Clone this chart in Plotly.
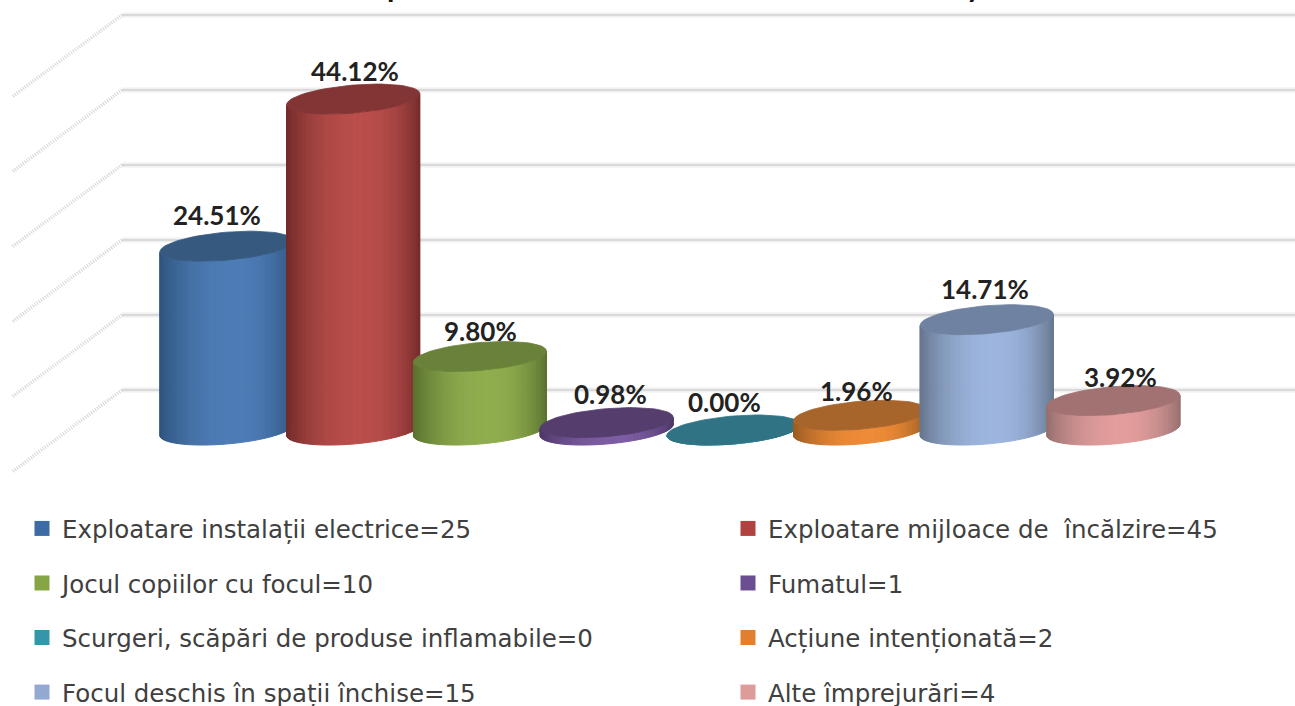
import math
import plotly.graph_objects as go

# ---- data ----
categories = ["Exploatare instalații electrice=25", "Exploatare mijloace de  încălzire=45",
              "Jocul copiilor cu focul=10", "Fumatul=1",
              "Scurgeri, scăpări de produse inflamabile=0", "Acțiune intenționată=2",
              "Focul deschis în spații închise=15", "Alte împrejurări=4"]
percent = [24.51, 44.12, 9.80, 0.98, 0.00, 1.96, 14.71, 3.92]
gridlines = [0, 10, 20, 30, 40, 50]
title_fragments = ["p", "y"]

# ---- style ----
side_center = ["#4d7cb6", "#b94e4b", "#90ad4e", "#7d5ca3", "#3b98b0", "#ee8b37", "#9db5de", "#e29d9c"]
side_edge = ["#2f557f", "#742c2a", "#5b7230", "#4d3768", "#25616f", "#9c5c22", "#66778f", "#977070"]
top_color = ["#35597f", "#823534", "#6a8139", "#553e6e", "#2f7385", "#a8652b", "#6f82a1", "#a27171"]
legend_color = ["#3d6ba4", "#b0423f", "#86a544", "#6b4e92", "#3596ab", "#e0802f", "#93a9d2", "#dd9b9a"]
label_nudge = [(-10, 3), (2, 0), (1, -2), (4, 1), (-9, 0), (-4, -4), (-2, 3), (7, -4)]

W, H = 1295, 706
X0, DX = 226.5, 126.7      # pixel of first category, pixels per category
Y0, DY = 390.0, 7.5        # pixel of value 0 on the back wall, pixels per percent
WALL_X, SIDE_X, SIDE_DROP = 122, 12, 82
FRONT = -40 / DY           # floor position of cylinders
A = 66.5 / DX              # half width
B = 14 / DY                # half height of ellipse
S = 5.5 / DY               # tilt
LABEL_GAP = 28             # pixels above top centre
N = 60


def xpx(p):
    return (p - X0) / DX


def ypx(p):
    return (Y0 - p) / DY


def mix(c1, c2, f):
    a = [int(c1[i:i + 2], 16) for i in (1, 3, 5)]
    b = [int(c2[i:i + 2], 16) for i in (1, 3, 5)]
    return "rgb(%d,%d,%d)" % tuple(round(p + (q - p) * f) for p, q in zip(a, b))


def shade(u):
    # u in [-1, 1], lightest slightly to the right of centre
    d = (u - 0.12) / (1.12 if u < 0.12 else 0.88)
    return max(0.0, 1 - abs(d) ** 2.2)


fig = go.Figure()

# walls
for g in gridlines:
    y = g
    fig.add_trace(go.Scatter(x=[xpx(WALL_X), xpx(W)], y=[y, y], mode="lines",
                             line=dict(color="#f0f0f0", width=5), showlegend=False, hoverinfo="skip"))
    fig.add_trace(go.Scatter(x=[xpx(WALL_X), xpx(W)], y=[y, y], mode="lines",
                             line=dict(color="#dadada", width=2), showlegend=False, hoverinfo="skip"))
    fig.add_trace(go.Scatter(x=[xpx(WALL_X), xpx(SIDE_X)], y=[y, y - SIDE_DROP / DY], mode="lines",
                             line=dict(color="#d4d4d4", width=3.5, dash="1px,1.5px"),
                             showlegend=False, hoverinfo="skip"))

# cylinders
for i, v in enumerate(percent):
    top = FRONT + v
    fig.add_trace(go.Bar(x=[i], y=[v], base=[FRONT], width=[2 * A],
                         marker=dict(color=side_center[i], line_width=0, opacity=0),
                         showlegend=False, hovertemplate=categories[i] + "<extra></extra>"))
    for k in range(N):
        t0 = math.pi * k / N
        t1 = math.pi * (k + 1) / N
        u = math.cos((t0 + t1) / 2)
        col = mix(side_edge[i], side_center[i], shade(u))
        xs, ys = [], []
        for t, lvl in ((t0, top), (t1, top), (t1, FRONT), (t0, FRONT)):
            xs.append(i + A * math.cos(t))
            ys.append(lvl - B * math.sin(t) + S * math.cos(t))
        xs.append(xs[0]); ys.append(ys[0])
        fig.add_trace(go.Scatter(x=xs, y=ys, mode="lines", fill="toself", fillcolor=col,
                                 line=dict(color=col, width=1), showlegend=False, hoverinfo="skip"))
    ts = [2 * math.pi * k / 72 for k in range(73)]
    fig.add_trace(go.Scatter(x=[i + A * math.cos(t) for t in ts],
                             y=[top - B * math.sin(t) + S * math.cos(t) for t in ts],
                             mode="lines", fill="toself", fillcolor=top_color[i],
                             line=dict(color=top_color[i], width=0.8), showlegend=False, hoverinfo="skip"))
    fig.add_annotation(x=i, y=top, text="%.2f%%" % v, showarrow=False,
                       xshift=label_nudge[i][0], yshift=LABEL_GAP + label_nudge[i][1],
                       font=dict(family="Lato", size=26, color="#222222", weight="bold"))

# legend entries
for i, name in enumerate(categories):
    fig.add_trace(go.Scatter(x=[None], y=[None], mode="markers", name=name,
                             marker=dict(symbol="square", size=15, color=legend_color[i]),
                             legend="legend" if i % 2 == 0 else "legend2",
                             legendgroup="g%d" % i))

for txt, px in zip(title_fragments, (385, 984)):
    fig.add_annotation(xref="paper", yref="paper", x=px / W, y=1, yanchor="bottom", yshift=-5,
                       text=txt, showarrow=False, font=dict(family="Lato", size=30, color="#111111", weight="bold"))

legend_common = dict(font=dict(family="DejaVu Sans", size=24.5, color="#404040"), tracegroupgap=19.7,
                     bgcolor="rgba(0,0,0,0)", xanchor="left", yanchor="top", itemclick=False, itemdoubleclick=False)
fig.update_layout(
    width=W, height=H, margin=dict(l=0, r=0, t=0, b=0, autoexpand=False), paper_bgcolor="white", plot_bgcolor="white",
    barmode="overlay", autosize=False,
    xaxis=dict(range=[xpx(0), xpx(W)], visible=False, fixedrange=True),
    yaxis=dict(range=[ypx(H), ypx(0)], visible=False, fixedrange=True),
    legend=dict(x=22 / W, y=1 - 506 / H, **legend_common),
    legend2=dict(x=728 / W, y=1 - 506 / H, **legend_common),
)
fig.write_html("out.html", config={"displayModeBar": False},
               post_script="document.body.style.margin='0';")
